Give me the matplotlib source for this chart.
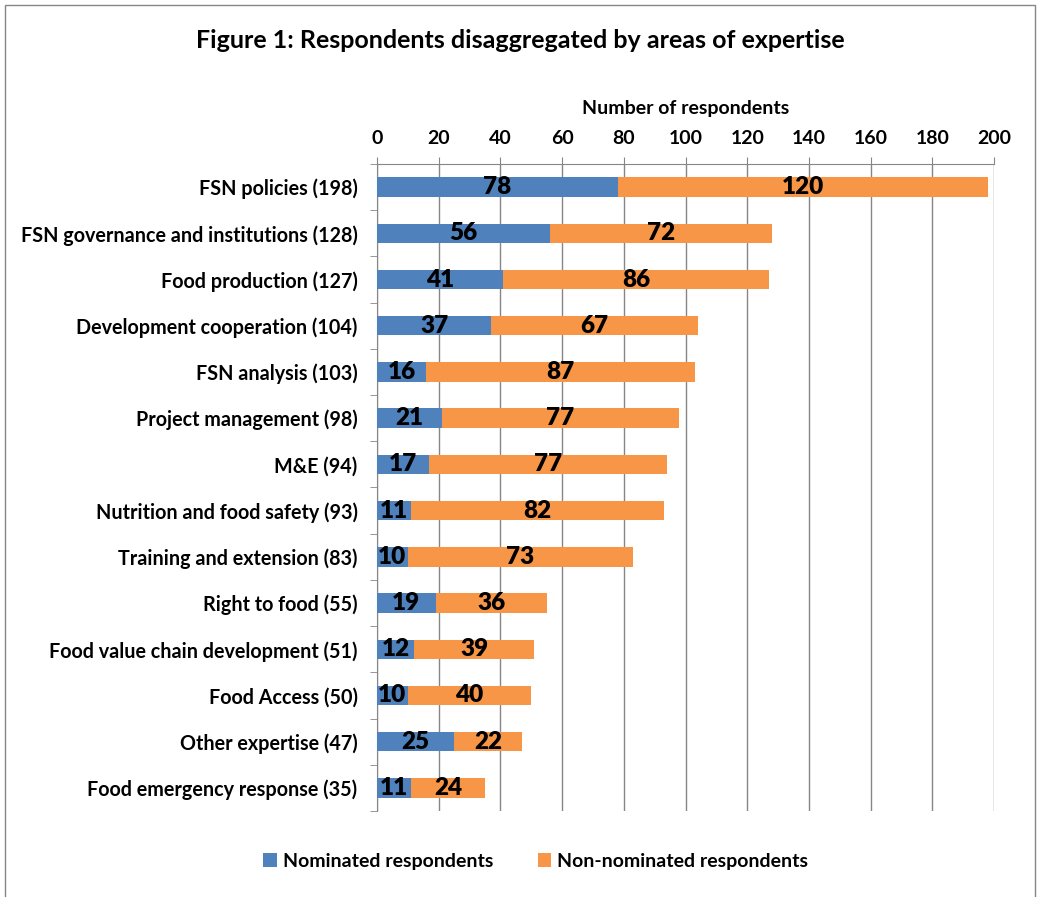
import matplotlib.pyplot as plt
import numpy as np
from matplotlib.patches import Rectangle

plt.rcParams['font.family'] = ['Lato', 'DejaVu Sans']
plt.rcParams['font.weight'] = 'bold'

areas = ["FSN policies (198)", "FSN governance and institutions (128)", "Food production (127)",
         "Development cooperation (104)", "FSN analysis (103)", "Project management (98)",
         "M&E (94)", "Nutrition and food safety (93)", "Training and extension (83)",
         "Right to food (55)", "Food value chain development (51)", "Food Access (50)",
         "Other expertise (47)", "Food emergency response (35)"]
nominated = [78, 56, 41, 37, 16, 21, 17, 11, 10, 19, 12, 10, 25, 11]
non_nominated = [120, 72, 86, 67, 87, 77, 77, 82, 73, 36, 39, 40, 22, 24]

blue = "#4F81BD"
orange = "#F79646"
grid = "#868686"

fig = plt.figure(figsize=(10.4, 8.97), dpi=100)
ax = fig.add_axes([0.3625, 0.0959, 0.5933, 0.7213])

y = np.arange(len(areas))
b1 = ax.barh(y, nominated, height=0.42, color=blue, label="Nominated respondents", zorder=3)
b2 = ax.barh(y, non_nominated, left=nominated, height=0.42, color=orange,
             label="Non-nominated respondents", zorder=3)
ax.bar_label(b1, labels=[str(v) for v in nominated], label_type='center', fontsize=17.5,
             fontweight='heavy', zorder=4)
ax.bar_label(b2, labels=[str(v) for v in non_nominated], label_type='center', fontsize=17.5,
             fontweight='heavy', zorder=4)

ax.set_ylim(len(areas) - 0.5, -0.5)
ax.set_xlim(0, 200)
ax.set_xticks(range(0, 201, 20))
ax.xaxis.tick_top()
ax.xaxis.set_label_position('top')
ax.set_xlabel("Number of respondents", fontsize=14, fontweight='bold', labelpad=12)
ax.tick_params(axis='x', labelsize=14, length=5, color=grid, pad=7)
ax.set_yticks(y)
ax.set_yticklabels(areas, fontsize=14.2, fontweight='bold')
ax.set_yticks(np.arange(-0.5, len(areas), 1), minor=True)
ax.tick_params(axis='y', which='major', length=0, pad=14)
ax.tick_params(axis='y', which='minor', length=5, color=grid)
ax.grid(axis='x', color=grid, linewidth=1, zorder=0)

for s in ['right', 'bottom']:
    ax.spines[s].set_visible(False)
for s in ['left', 'top']:
    ax.spines[s].set_color(grid)

fig.text(0.5, 0.955, "Figure 1: Respondents disaggregated by areas of expertise",
         ha='center', va='center', fontsize=18, fontweight='bold')

fig.legend(handles=[b1, b2], loc='center', bbox_to_anchor=(0.515, 0.04), ncol=2,
           frameon=False, fontsize=14, handlelength=0.7, handleheight=0.7,
           columnspacing=2.3, handletextpad=0.3)

fig.patches.append(Rectangle((0.005, -0.01), 0.99, 1.004, transform=fig.transFigure,
                             fill=False, edgecolor=grid, linewidth=1))

fig.savefig("out.png", dpi=100)
